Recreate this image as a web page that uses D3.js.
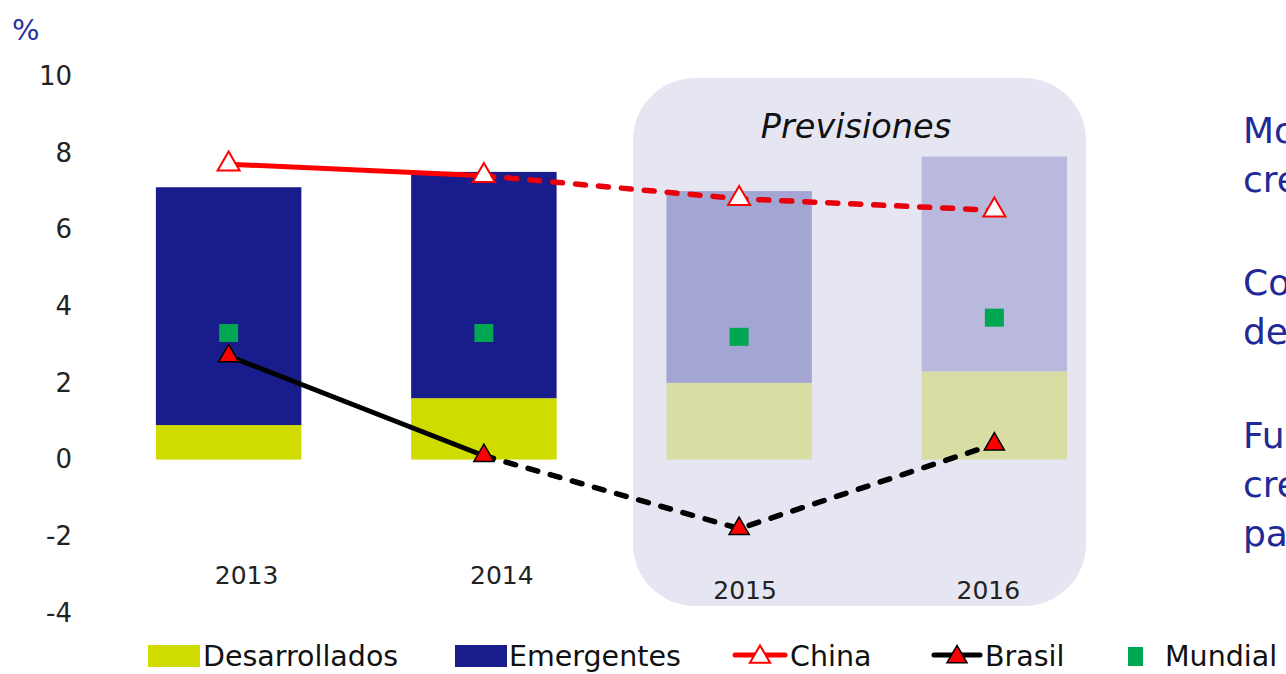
<!DOCTYPE html>
<html>
<head>
<meta charset="utf-8">
<script src="https://cdn.jsdelivr.net/npm/d3@7"></script>
<style>
  body { margin: 0; background: #fff; overflow: hidden; }
  svg { display: block; }
</style>
</head>
<body>
<div class="mainviz"></div>
<script>
// data
var years = ["2013", "2014", "2015", "2016"];
var forecastYears = ["2015", "2016"];
var desarrollados = [0.9, 1.6, 2.0, 2.3];
var emergentes = [6.2, 5.9, 5.0, 5.6];
var china = [7.7, 7.4, 6.8, 6.5];
var brasil = [2.7, 0.1, -1.8, 0.4];
var mundial = [3.3, 3.3, 3.2, 3.7];
var yTicks = [-4, -2, 0, 2, 4, 6, 8, 10];
var legendLabels = ["Desarrollados", "Emergentes", "China", "Brasil", "Mundial"];
var sideNotes = [["Moderado", "crecimiento"], ["Contribución", "de"], ["Fuerte", "crecimiento", "países"]];

var width = 1286, height = 674;
var navy = "#191d8c";
var font = "DejaVu Sans";

var svg = d3.select(".mainviz").append("svg")
	.attr("width", width)
	.attr("height", height);

var y = d3.scaleLinear()
	.domain([-4, 10])
	.range([613, 76]);

var x = d3.scaleBand()
	.domain(years)
	.range([101, 1122])
	.paddingInner(.43)
	.paddingOuter(.215);

var cx = function(yr){ return x(yr) + x.bandwidth()/2; };

// forecast panel
svg.append("rect")
	.attr("x", 633).attr("y", 78)
	.attr("width", 453).attr("height", 528)
	.attr("rx", 62).attr("ry", 62)
	.attr("fill", "#e6e6f3");

svg.append("text")
	.attr("x", 856).attr("y", 138)
	.attr("text-anchor", "middle")
	.attr("font-family", font)
	.attr("font-style", "italic")
	.attr("font-size", 33.5)
	.attr("fill", "#111")
	.text("Previsiones");

// bar colours: actual vs forecast
var devCol = { "2013": "#d0dc00", "2014": "#d0dc00", "2015": "#d8dda3", "2016": "#d8dda3" };
var emCol = { "2013": navy, "2014": navy, "2015": "#a3a6d3", "2016": "#b8b9dc" };

var rows = years.map(function(d, i){
	return { year: d, dev: desarrollados[i], em: emergentes[i], china: china[i], brasil: brasil[i], mundial: mundial[i] };
});

var stack = d3.stack().keys(["dev", "em"]);
var series = stack(rows);

series.forEach(function(s){
	svg.selectAll("rect.bar-" + s.key)
		.data(s)
		.enter().append("rect")
		.attr("class", "bar-" + s.key)
		.attr("x", function(d){ return x(d.data.year); })
		.attr("width", x.bandwidth())
		.attr("y", function(d){ return y(d[1]); })
		.attr("height", function(d){ return y(d[0]) - y(d[1]); })
		.attr("fill", function(d){ return s.key == "dev" ? devCol[d.data.year] : emCol[d.data.year]; });
});

// y axis labels
var yAxis = d3.axisLeft(y).tickValues(yTicks).tickSize(0).tickPadding(0)
	.tickFormat(function(d){ return d < 0 ? "-" + Math.abs(d) : d; });
var ya = svg.append("g")
	.attr("transform", "translate(72,0)")
	.call(yAxis);
ya.select(".domain").remove();
ya.selectAll("text")
	.attr("font-family", font)
	.attr("font-size", 26)
	.attr("fill", "#222");

svg.append("text")
	.attr("x", 12).attr("y", 40)
	.attr("font-family", font)
	.attr("font-size", 29)
	.attr("fill", "#2a33a0")
	.text("%");

// year labels (text boxes sit a bit off the bar centres)
var yearDx = [18, 18, 6, -6];
svg.selectAll("text.year")
	.data(years)
	.enter().append("text")
	.attr("class", "year")
	.attr("x", function(d, i){ return cx(d) + yearDx[i]; })
	.attr("y", function(d){ return forecastYears.indexOf(d) >= 0 ? 599 : 584; })
	.attr("text-anchor", "middle")
	.attr("font-family", font)
	.attr("font-size", 25)
	.attr("fill", "#222")
	.text(function(d){ return d; });

// mundial squares
svg.selectAll("rect.mundial")
	.data(rows)
	.enter().append("rect")
	.attr("class", "mundial")
	.attr("x", function(d){ return cx(d.year) - 9.5; })
	.attr("y", function(d){ return y(d.mundial) - 9; })
	.attr("width", 19).attr("height", 18)
	.attr("fill", "#00a651");

// lines: solid for actual, dashed for forecast
var line = function(key){
	return d3.line()
		.x(function(d){ return cx(d.year); })
		.y(function(d){ return y(d[key]); });
};

[["china", "#ff0000"], ["brasil", "#000"]].forEach(function(p){
	svg.append("path")
		.attr("d", line(p[0])(rows.slice(0, 2)))
		.attr("fill", "none")
		.attr("stroke", p[1] == "#000" ? "#000" : "#f00")
		.attr("stroke-width", 5);
	svg.append("path")
		.attr("d", line(p[0])(rows.slice(1)))
		.attr("fill", "none")
		.attr("stroke", p[1] == "#000" ? "#000" : "#e8000b")
		.attr("stroke-width", 5.5)
		.attr("stroke-linecap", "round")
		.attr("stroke-dasharray", "10,13");
});

var triBig = d3.symbol().type(d3.symbolTriangle).size(210);
var triSmall = d3.symbol().type(d3.symbolTriangle).size(175);

svg.selectAll("path.china")
	.data(rows)
	.enter().append("path")
	.attr("class", "china")
	.attr("d", triBig)
	.attr("transform", function(d){ return "translate(" + cx(d.year) + "," + y(d.china) + ")"; })
	.attr("fill", "#fff")
	.attr("stroke", "#f00")
	.attr("stroke-width", 2);

svg.selectAll("path.brasil")
	.data(rows)
	.enter().append("path")
	.attr("class", "brasil")
	.attr("d", triSmall)
	.attr("transform", function(d){ return "translate(" + cx(d.year) + "," + y(d.brasil) + ")"; })
	.attr("fill", "#f00")
	.attr("stroke", "#000")
	.attr("stroke-width", 1.5);

// side notes (cut off by the right edge, as in the original slide)
var noteY = [143, 295, 448];
sideNotes.forEach(function(lines, i){
	lines.forEach(function(t, j){
		svg.append("text")
			.attr("x", 1243).attr("y", noteY[i] + j*49)
			.attr("font-family", font)
			.attr("font-size", 36)
			.attr("fill", "#1f2a96")
			.text(t);
	});
});

// legend
var lg = svg.append("g").attr("font-family", font)
	.attr("font-size", 28.5).attr("fill", "#111");
var ly = 655, lb = 666;

lg.append("rect").attr("x", 148).attr("y", 645).attr("width", 52).attr("height", 22).attr("fill", "#d0dc00");
lg.append("text").attr("x", 203).attr("y", lb).text(legendLabels[0]);

lg.append("rect").attr("x", 455).attr("y", 645).attr("width", 52).attr("height", 22).attr("fill", navy);
lg.append("text").attr("x", 509).attr("y", lb).text(legendLabels[1]);

lg.append("line").attr("x1", 735).attr("x2", 785).attr("y1", ly).attr("y2", ly)
	.attr("stroke", "#f00").attr("stroke-width", 5).attr("stroke-linecap", "round");
lg.append("path").attr("d", triSmall).attr("transform", "translate(760," + (ly + 2) + ")")
	.attr("fill", "#fff").attr("stroke", "#f00").attr("stroke-width", 2);
lg.append("text").attr("x", 790).attr("y", lb).text(legendLabels[2]);

lg.append("line").attr("x1", 934).attr("x2", 980).attr("y1", ly).attr("y2", ly)
	.attr("stroke", "#000").attr("stroke-width", 5).attr("stroke-linecap", "round");
lg.append("path").attr("d", triSmall).attr("transform", "translate(957," + (ly + 2) + ")")
	.attr("fill", "#f00").attr("stroke", "#000").attr("stroke-width", 1.5);
lg.append("text").attr("x", 985).attr("y", lb).text(legendLabels[3]);

lg.append("rect").attr("x", 1128).attr("y", 647).attr("width", 15).attr("height", 19).attr("fill", "#00a651");
lg.append("text").attr("x", 1165).attr("y", lb).text(legendLabels[4]);
</script>
</body>
</html>
